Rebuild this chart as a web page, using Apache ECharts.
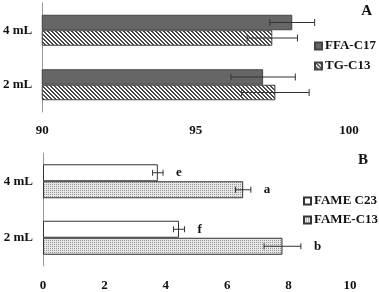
<!DOCTYPE html>
<html>
<head>
<meta charset="utf-8">
<script src="https://cdn.jsdelivr.net/npm/echarts@6/dist/echarts.min.js"></script>
<style>
  html, body { margin: 0; padding: 0; background: #fff; }
  #chart { width: 379px; height: 292px; }
</style>
</head>
<body>
<div id="chart"></div>
<script>
// data
var categories = ["2 mL", "4 mL"];

var ffaC17 = [97.2, 98.15];
var ffaC17Err = [1.05, 0.73];
var tgC13 = [97.6, 97.5];
var tgC13Err = [1.1, 0.82];

var fameC23 = [4.43, 3.74];
var fameC23Err = [0.18, 0.17];
var fameC23Letters = ["f", "e"];
var fameC13 = [7.8, 6.52];
var fameC13Err = [0.6, 0.25];
var fameC13Letters = ["b", "a"];

var xTicksA = [90, 95, 100];
var xTicksB = [0, 2, 4, 6, 8, 10];

var font = "Liberation Serif";

// fill patterns
function hatch() {
  var c = document.createElement("canvas");
  c.width = 4; c.height = 4;
  var g = c.getContext("2d");
  g.fillStyle = "#fff";
  g.fillRect(0, 0, 4, 4);
  g.fillStyle = "#4a4a4a";
  for (var i = 0; i < 4; i++) {
    g.fillRect(i, i, 1, 1);
    g.fillRect((i + 1) % 4, i, 1, 1);
  }
  return c;
}
function dots() {
  var c = document.createElement("canvas");
  c.width = 2; c.height = 2;
  var g = c.getContext("2d");
  g.fillStyle = "#e6e6e6";
  g.fillRect(0, 0, 2, 2);
  g.fillStyle = "#9a9a9a";
  g.fillRect(0, 0, 1, 1);
  return c;
}

function pairs(vals, errs) {
  return vals.map(function (v, i) { return [v, i, errs[i]]; });
}

function errorBars(shift, cap, letters) {
  return function (params, api) {
    var cat = api.value(1);
    var v = api.value(0);
    var e = api.value(2);
    var p1 = api.coord([v - e, cat]);
    var p2 = api.coord([v + e, cat]);
    var y = p1[1] + shift;
    var st = { stroke: "#333", lineWidth: 1 };
    var kids = [
      { type: "line", shape: { x1: p1[0], y1: y, x2: p2[0], y2: y }, style: st },
      { type: "line", shape: { x1: p1[0], y1: y - cap, x2: p1[0], y2: y + cap }, style: st },
      { type: "line", shape: { x1: p2[0], y1: y - cap, x2: p2[0], y2: y + cap }, style: st }
    ];
    if (letters) {
      kids.push({
        type: "text",
        style: {
          x: p2[0] + 13, y: y,
          text: letters[params.dataIndex],
          font: "bold 13px " + font,
          fill: "#111",
          verticalAlign: "middle"
        }
      });
    }
    return { type: "group", children: kids };
  };
}

var axisLabel = { color: "#111", fontFamily: font, fontWeight: "bold", fontSize: 13 };
var axisLine = { lineStyle: { color: "#999" } };
var axisTick = { length: 4, lineStyle: { color: "#999" } };
var legendText = { fontFamily: font, fontWeight: "bold", fontSize: 13, color: "#111", lineHeight: 14, padding: [0, 0, 0, -2] };

var chart = echarts.init(document.getElementById("chart"));
var option = {
  backgroundColor: "#fff",
  animation: false,
  title: [
    { text: "A", right: 7, top: 4, padding: 0, textStyle: { fontFamily: font, fontWeight: "bold", fontSize: 15, color: "#111" } },
    { text: "B", right: 11, top: 153, padding: 0, textStyle: { fontFamily: font, fontWeight: "bold", fontSize: 15, color: "#111" } }
  ],
  grid: [
    { left: 42, right: 30, top: 3, height: 109 },
    { left: 43, right: 29, top: 153, height: 115 }
  ],
  xAxis: [
    {
      gridIndex: 0, type: "value", min: xTicksA[0], max: xTicksA[xTicksA.length - 1], interval: 5,
      splitLine: { show: false }, axisLine: axisLine, axisTick: axisTick,
      axisLabel: Object.assign({ margin: 12 }, axisLabel)
    },
    {
      gridIndex: 1, type: "value", min: xTicksB[0], max: xTicksB[xTicksB.length - 1], interval: 2,
      splitLine: { show: false }, axisLine: axisLine, axisTick: axisTick,
      axisLabel: Object.assign({ margin: 13 }, axisLabel)
    }
  ],
  yAxis: [
    { gridIndex: 0, type: "category", data: categories, axisLine: axisLine, axisTick: axisTick,
      axisLabel: Object.assign({ margin: 10 }, axisLabel) },
    { gridIndex: 1, type: "category", data: categories, axisLine: axisLine, axisTick: axisTick,
      axisLabel: Object.assign({ margin: 10 }, axisLabel) }
  ],
  legend: [
    {
      data: ["FFA-C17", "TG-C13"], orient: "vertical", left: 314, top: 39, padding: 0,
      icon: "rect", itemWidth: 7, itemHeight: 7, itemGap: 6, textStyle: legendText
    },
    {
      data: ["FAME C23", "FAME-C13"], orient: "vertical", left: 303, top: 194, padding: 0,
      icon: "rect", itemWidth: 7, itemHeight: 7, itemGap: 5, textStyle: legendText
    }
  ],
  series: [
    {
      name: "FFA-C17", type: "bar", xAxisIndex: 0, yAxisIndex: 0,
      data: ffaC17, barWidth: 15.5, barGap: "0%",
      itemStyle: { color: "#666", borderColor: "#444", borderWidth: 1 }
    },
    {
      name: "TG-C13", type: "bar", xAxisIndex: 0, yAxisIndex: 0,
      data: tgC13, barWidth: 15.5, barGap: "0%",
      itemStyle: { color: { image: hatch(), repeat: "repeat" }, borderColor: "#444", borderWidth: 1 }
    },
    {
      name: "FAME C23", type: "bar", xAxisIndex: 1, yAxisIndex: 1,
      data: fameC23, barWidth: 17, barGap: "0%",
      itemStyle: { color: "#fff", borderColor: "#333", borderWidth: 1 }
    },
    {
      name: "FAME-C13", type: "bar", xAxisIndex: 1, yAxisIndex: 1,
      data: fameC13, barWidth: 17, barGap: "0%",
      itemStyle: { color: { image: dots(), repeat: "repeat" }, borderColor: "#333", borderWidth: 1 }
    },
    {
      type: "custom", xAxisIndex: 0, yAxisIndex: 0, z: 5, silent: true,
      renderItem: errorBars(-7.75, 3.5), data: pairs(ffaC17, ffaC17Err)
    },
    {
      type: "custom", xAxisIndex: 0, yAxisIndex: 0, z: 5, silent: true,
      renderItem: errorBars(7.75, 3.5), data: pairs(tgC13, tgC13Err)
    },
    {
      type: "custom", xAxisIndex: 1, yAxisIndex: 1, z: 5, silent: true,
      renderItem: errorBars(-8.5, 3, fameC23Letters), data: pairs(fameC23, fameC23Err)
    },
    {
      type: "custom", xAxisIndex: 1, yAxisIndex: 1, z: 5, silent: true,
      renderItem: errorBars(8.5, 3, fameC13Letters), data: pairs(fameC13, fameC13Err)
    }
  ]
};
chart.setOption(option);
</script>
</body>
</html>
